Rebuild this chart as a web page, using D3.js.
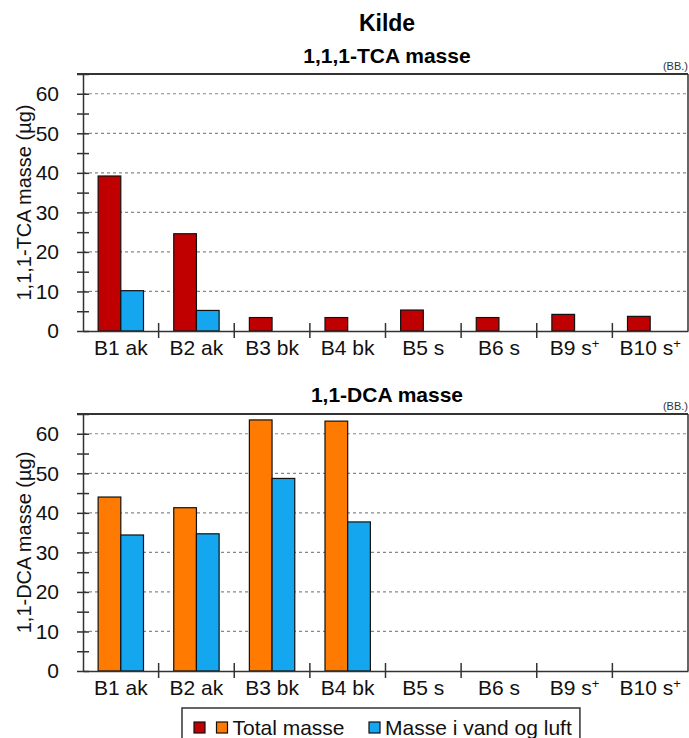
<!DOCTYPE html>
<html>
<head>
<meta charset="utf-8">
<script src="https://cdn.jsdelivr.net/npm/d3@7"></script>
<style>
  html, body { margin: 0; padding: 0; background: #fff; }
  svg { display: block; font-family: "Liberation Sans", Arial, sans-serif; }
</style>
</head>
<body>
<svg id="chart" width="689" height="738"></svg>
<script>
const categories = ["B1 ak", "B2 ak", "B3 bk", "B4 bk", "B5 s", "B6 s", "B9 s", "B10 s"];
const superPlus = [false, false, false, false, false, false, true, true];
const tcaTotal = [39.2, 24.6, 3.4, 3.4, 5.3, 3.4, 4.2, 3.7];
const tcaVandLuft = [10.2, 5.2, null, null, null, null, null, null];
const dcaTotal = [44.0, 41.3, 63.5, 63.2, null, null, null, null];
const dcaVandLuft = [34.4, 34.7, 48.7, 37.7, null, null, null, null];
const yTickLabels = [0, 10, 20, 30, 40, 50, 60];
const yMinorTicks = [0, 5, 10, 15, 20, 25, 30, 35, 40, 45, 50, 55, 60, 65];
const seriesKeys = ["total", "vand"];

const RED = "#c00000", ORANGE = "#ff7a00", BLUE = "#14a6ef";
const FS = 21;

const svg = d3.select("#chart");

svg.append("text").attr("x", 387).attr("y", 31).attr("text-anchor", "middle")
  .attr("font-weight", "bold").attr("font-size", 23).text("Kilde");

const left = 83, right = 688;
const x = d3.scaleBand().domain(categories).range([left, right]).padding(0);
const xs = d3.scaleBand().domain(seriesKeys)
  .range([x.bandwidth() * 0.2, x.bandwidth() * 0.8]).padding(0);

function panel(cfg) {
  const y = d3.scaleLinear().domain([0, 65]).range([cfg.bottom, cfg.top]);
  const g = svg.append("g");

  g.append("text").attr("x", 387).attr("y", cfg.titleY).attr("text-anchor", "middle")
    .attr("font-weight", "bold").attr("font-size", 21).text(cfg.title);
  g.append("text").attr("x", right).attr("y", cfg.top - 4).attr("text-anchor", "end")
    .attr("font-size", 11).attr("fill", "#333").text("(BB.)");

  // grid
  g.append("g").selectAll("line").data(yTickLabels.filter(d => d > 0)).join("line")
    .attr("x1", left).attr("x2", right).attr("y1", d => y(d)).attr("y2", d => y(d))
    .attr("stroke", "#888").attr("stroke-width", 1.2).attr("stroke-dasharray", "3,3");

  // bars
  const rows = categories.map((c, i) => ({ c, total: cfg.total[i], vand: cfg.vand[i] }));
  const bars = [];
  rows.forEach(r => seriesKeys.forEach(k => { if (r[k] != null) bars.push({ c: r.c, k, v: r[k] }); }));
  g.append("g").selectAll("rect").data(bars).join("rect")
    .attr("x", d => x(d.c) + xs(d.k))
    .attr("width", xs.bandwidth())
    .attr("y", d => y(d.v))
    .attr("height", d => y(0) - y(d.v))
    .attr("fill", d => d.k === "total" ? cfg.totalColor : BLUE)
    .attr("stroke", "#111").attr("stroke-width", 1.2);

  // frame: top and right
  g.append("line").attr("x1", left - 6).attr("x2", right).attr("y1", y(65)).attr("y2", y(65))
    .attr("stroke", "#333").attr("stroke-width", 2);
  g.append("line").attr("x1", right).attr("x2", right).attr("y1", y(65)).attr("y2", y(0))
    .attr("stroke", "#333").attr("stroke-width", 1.5);

  // y axis
  const yAxis = d3.axisLeft(y).tickValues(yMinorTicks)
    .tickFormat(d => yTickLabels.includes(d) ? d : "").tickSizeInner(6).tickSizeOuter(0).tickPadding(5);
  const ya = g.append("g").attr("transform", `translate(${left},0)`).call(yAxis);
  ya.select(".domain").attr("stroke", "#333").attr("stroke-width", 1.5);
  ya.selectAll(".tick line").attr("x2", -6).attr("x1", 6).attr("stroke", "#333").attr("stroke-width", 1.5);
  ya.selectAll(".tick text").attr("x", -24).attr("font-size", FS).attr("fill", "#111")
    .attr("font-family", "Liberation Sans, Arial, sans-serif");

  // x axis
  const xAxis = d3.axisBottom(x).tickSize(0).tickPadding(10).tickFormat("");
  const xa = g.append("g").attr("transform", `translate(0,${y(0)})`).call(xAxis);
  xa.select(".domain").attr("stroke", "#333").attr("stroke-width", 1.5);
  xa.selectAll(".bound").data(categories.slice(1)).join("line").attr("class", "bound")
    .attr("x1", d => x(d)).attr("x2", d => x(d)).attr("y1", -8).attr("y2", 7)
    .attr("stroke", "#333").attr("stroke-width", 1.5);
  xa.selectAll(".tick").each(function(d, i) {
    const t = d3.select(this).append("text").attr("y", 24).attr("text-anchor", "middle")
      .attr("font-size", FS).attr("fill", "#111")
      .attr("font-family", "Liberation Sans, Arial, sans-serif");
    t.append("tspan").text(d);
    if (superPlus[i]) t.append("tspan").attr("font-size", 13).attr("dy", -7).text("+");
  });

  // y label
  g.append("text")
    .attr("transform", `translate(${cfg.labelX},${(y(0) + y(65)) / 2}) rotate(-90)`)
    .attr("text-anchor", "middle").attr("font-size", 20).attr("fill", "#111")
    .text(cfg.ylabel);
}

panel({ title: "1,1,1-TCA masse", titleY: 63, top: 74, bottom: 331,
  total: tcaTotal, vand: tcaVandLuft, totalColor: RED,
  ylabel: "1,1,1-TCA masse (µg)", labelX: 31 });
panel({ title: "1,1-DCA masse", titleY: 402, top: 414, bottom: 671,
  total: dcaTotal, vand: dcaVandLuft, totalColor: ORANGE,
  ylabel: "1,1-DCA masse (µg)", labelX: 31 });

// legend
const lg = svg.append("g");
const legendItems = [
  { colors: [RED, ORANGE], label: "Total masse", x: 194 },
  { colors: [BLUE], label: "Masse i vand og luft", x: 369 }
];
const box = lg.append("rect").attr("x", 182).attr("y", 708).attr("height", 40)
  .attr("fill", "#fff").attr("stroke", "#333").attr("stroke-width", 1.5);
let maxRight = 0;
legendItems.forEach(it => {
  it.colors.forEach((c, j) => {
    lg.append("rect").attr("x", it.x + j * 22.5).attr("y", 722).attr("width", 11).attr("height", 11)
      .attr("fill", c).attr("stroke", "#111").attr("stroke-width", 1.2);
  });
  const t = lg.append("text").attr("x", it.x + (it.colors.length - 1) * 22.5 + 16).attr("y", 735)
    .attr("font-size", FS).attr("fill", "#111").text(it.label);
  const bb = t.node().getBBox();
  maxRight = Math.max(maxRight, bb.x + bb.width);
});
box.attr("width", maxRight + 8 - 182);
</script>
</body>
</html>
